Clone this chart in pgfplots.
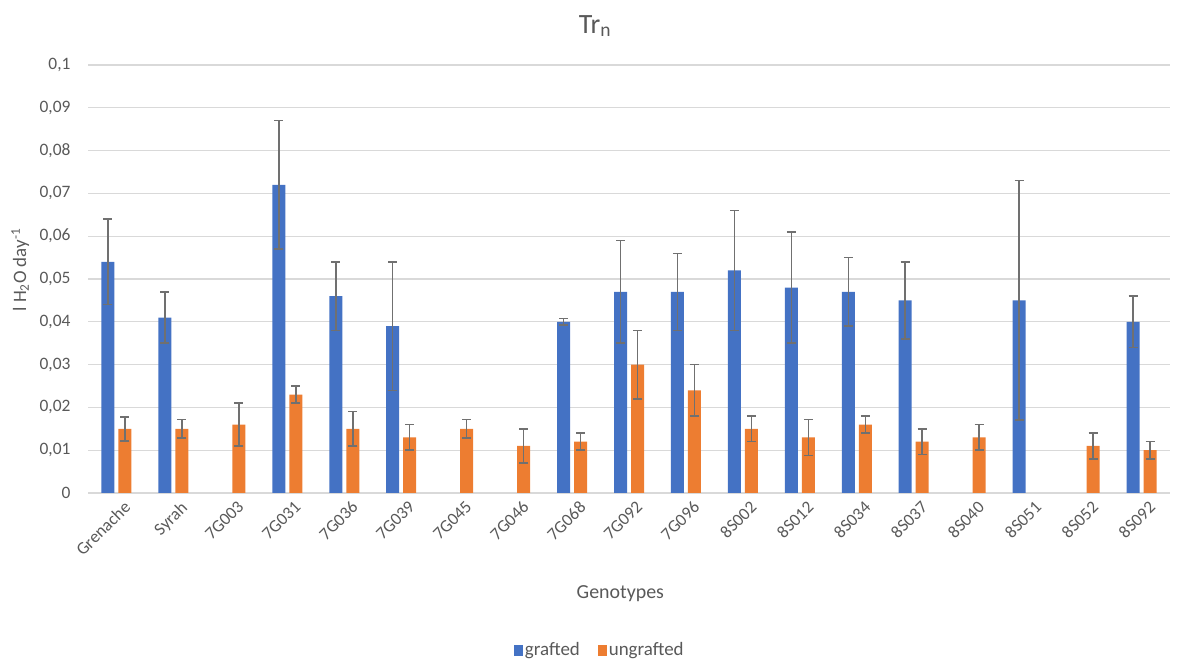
\documentclass[border=0pt]{standalone}
\usepackage{pgfplots}
\pgfplotsset{compat=1.18}
\usepackage{fontspec}
\setmainfont{Carlito}
\definecolor{cblue}{HTML}{4472C4}
\definecolor{corange}{HTML}{ED7D31}
\definecolor{ctext}{HTML}{595959}
\definecolor{cgrid}{HTML}{D9D9D9}
\definecolor{cerr}{HTML}{707070}
\begin{document}
\begin{tikzpicture}
\useasboundingbox (0,0) rectangle (1181bp,659bp);
\begin{axis}[
  at={(88bp,166bp)}, anchor=south west,
  scale only axis, width=1082bp, height=428bp,
  xmin=-0.5, xmax=18.5, ymin=0, ymax=0.1,
  xtick={0,...,18},
  xticklabels={Grenache,Syrah,7G003,7G031,7G036,7G039,7G045,7G046,7G068,7G092,7G096,8S002,8S012,8S034,8S037,8S040,8S051,8S052,8S092},
  ytick={0,0.01,0.02,0.03,0.04,0.05,0.06,0.07,0.08,0.09,0.1},
  yticklabels={0,{0,01},{0,02},{0,03},{0,04},{0,05},{0,06},{0,07},{0,08},{0,09},{0,1}},
  ymajorgrids, grid style={cgrid, line width=1.2bp},
  axis line style={draw=none},
  major tick length=0pt,
  tick label style={font=\fontsize{17.5}{20}\selectfont, text=ctext},
  yticklabel style={xshift=-14bp},
  xticklabel style={rotate=45, anchor=north east, xshift=3bp, yshift=-6bp},
  xlabel={Genotypes},
  xlabel style={at={(axis description cs:0.492,-0.234)}, anchor=center, font=\fontsize{20}{22}\selectfont, text=ctext},
  ylabel={l H\textsubscript{2}O day\textsuperscript{-1}},
  ylabel style={at={(axis description cs:-0.0625,0.521)}, anchor=center, rotate=0, font=\fontsize{19}{21}\selectfont, text=ctext},
  title={Tr\textsubscript{n}},
  title style={at={(axis description cs:0.4686,1.077)}, anchor=center, font=\fontsize{28}{30}\selectfont, text=ctext},
  ybar, bar width=13bp,
  legend style={at={(axis description cs:0.473,-0.367)}, anchor=center, legend columns=2, draw=none, font=\fontsize{19}{21}\selectfont, text=ctext, /tikz/every even column/.append style={column sep=16bp}},
  legend image code/.code={\fill[#1] (0bp,-6bp) rectangle (9bp,5bp);},
  error bars/y dir=both, error bars/y explicit,
  error bars/error bar style={cerr, line width=1.5bp},
  error bars/error mark options={cerr, rotate=90, mark size=4.5bp, line width=1.5bp},
]
\addplot[fill=cblue, draw=none, bar shift=-8.5bp] coordinates {
 (0,0.054) +- (0,0.010)
 (1,0.041) +- (0,0.006)
 (3,0.072) +- (0,0.015)
 (4,0.046) +- (0,0.008)
 (5,0.039) +- (0,0.015)
 (8,0.040) +- (0,0.0008)
 (9,0.047) +- (0,0.012)
 (10,0.047) +- (0,0.009)
 (11,0.052) +- (0,0.014)
 (12,0.048) +- (0,0.013)
 (13,0.047) +- (0,0.008)
 (14,0.045) +- (0,0.009)
 (16,0.045) +- (0,0.028)
 (18,0.040) +- (0,0.006)
};
\addlegendentry{grafted}
\addplot[fill=corange, draw=none, bar shift=8.5bp] coordinates {
 (0,0.015) +- (0,0.0028)
 (1,0.015) +- (0,0.0022)
 (2,0.016) +- (0,0.005)
 (3,0.023) +- (0,0.002)
 (4,0.015) +- (0,0.004)
 (5,0.013) +- (0,0.003)
 (6,0.015) +- (0,0.0022)
 (7,0.011) +- (0,0.004)
 (8,0.012) +- (0,0.002)
 (9,0.030) +- (0,0.008)
 (10,0.024) +- (0,0.006)
 (11,0.015) +- (0,0.003)
 (12,0.013) +- (0,0.0042)
 (13,0.016) +- (0,0.002)
 (14,0.012) +- (0,0.003)
 (15,0.013) +- (0,0.003)
 (17,0.011) +- (0,0.003)
 (18,0.010) +- (0,0.002)
};
\addlegendentry{ungrafted}
\end{axis}
\end{tikzpicture}
\end{document}
